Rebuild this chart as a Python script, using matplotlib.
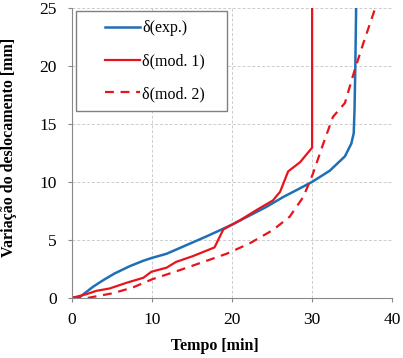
import matplotlib.pyplot as plt
from matplotlib.legend_handler import HandlerLine2D

# delta (exp.)
t_exp = [0, 1.0, 2.6, 3.9, 5.3, 7.2, 8.9, 10, 11.8, 14.3, 16.8, 18.7, 20.1, 22.2, 24.3, 26.4,
         28.5, 30, 32.2, 34.1, 34.9, 35.2, 35.3, 35.4, 35.5]
d_exp = [0, 0.09, 0.95, 1.53, 2.1, 2.73, 3.2, 3.45, 3.8, 4.55, 5.3, 5.9, 6.35, 7.1, 7.85, 8.7,
         9.45, 10.0, 10.96, 12.2, 13.3, 14.2, 16.2, 19.9, 25]

# delta (mod. 1)
t_m1 = [0, 1.8, 3.0, 4.7, 6.8, 8.9, 9.9, 11.8, 13, 15.1, 17.8, 18.9, 21, 23, 25.1, 26, 27,
        28.5, 30, 30]
d_m1 = [0, 0.32, 0.6, 0.81, 1.3, 1.73, 2.25, 2.6, 3.1, 3.6, 4.35, 5.9, 6.7, 7.55, 8.4, 9.15,
        10.9, 11.7, 12.95, 25]

# delta (mod. 2)
t_m2 = [0, 2, 5.1, 7.6, 10, 13.5, 16, 19.3, 22.2, 25.1, 27.2, 28.9, 30.1, 31.4, 32.6,
        34.1, 35.3, 36.4, 37.8]
d_m2 = [0, 0, 0.4, 0.9, 1.6, 2.4, 3.0, 3.8, 4.7, 5.85, 7.0, 8.7, 10.7, 13.3, 15.6,
        16.8, 19.6, 21.95, 24.8]

plt.rcParams['font.family'] = ['Liberation Serif', 'DejaVu Serif']

fig = plt.figure(figsize=(4.03, 3.58), dpi=100)
ax = fig.add_axes([0.179, 0.168, 0.794, 0.81])

ax.plot(t_exp, d_exp, color='#1f6fb5', lw=1.8, label='δ(exp.)')
ax.plot(t_m1, d_m1, color='#e8141c', lw=1.6, label='δ(mod. 1)')
ax.plot(t_m2, d_m2, color='#e8141c', lw=1.6, ls=(0, (4, 3)), label='δ(mod. 2)')

ax.set_xlim(0, 40)
ax.set_ylim(0, 25)
ax.set_xticks([0, 10, 20, 30, 40])
ax.set_yticks([0, 5, 10, 15, 20, 25])
ax.grid(True, color='#cccccc', ls=(0, (3, 2)), lw=0.7)
for s in ['top', 'right']:
    ax.spines[s].set_visible(False)
for s in ['left', 'bottom']:
    ax.spines[s].set_color('#888888')
ax.tick_params(labelsize=12.5, color='#888888', length=3)
ax.tick_params(axis='y', pad=8)
ax.tick_params(axis='x', pad=7)

ax.set_xlabel('Tempo [min]', fontsize=11.5, fontweight='bold')
ax.set_ylabel('Variação do deslocamento [mm]', fontsize=11.5, fontweight='bold')
ax.xaxis.set_label_coords(0.447, -0.137)
ax.yaxis.set_label_coords(-0.172, 0.52)

leg = ax.legend(loc='upper left', bbox_to_anchor=(0.0125, 0.6, 0.472, 0.39), mode='expand',
                borderaxespad=0, fontsize=11.5, fancybox=False, edgecolor='#808080',
                framealpha=1, handlelength=3.4, labelspacing=1.05, borderpad=0.6,
                handletextpad=0.15, handler_map={plt.Line2D: HandlerLine2D(xpad=1.2)})
leg.get_frame().set_linewidth(1.0)

fig.savefig('out.png', dpi=100)
